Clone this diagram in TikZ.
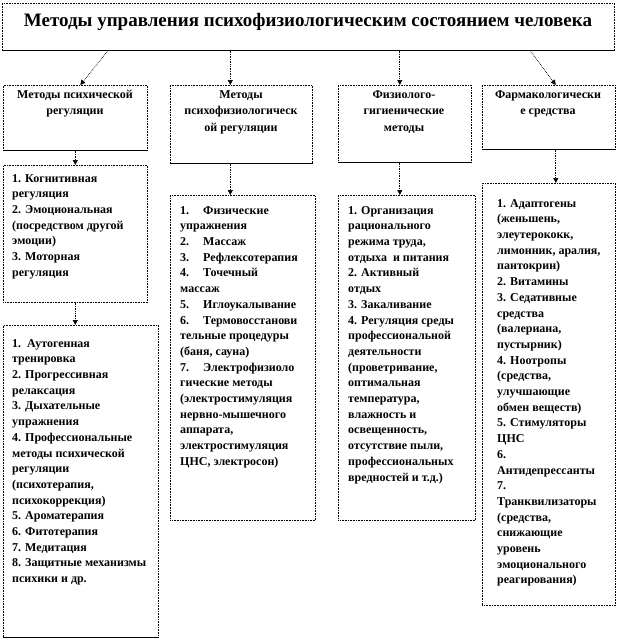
\documentclass[tikz,border=0pt]{standalone}
\usepackage{fontspec}
\setmainfont{Liberation Serif}
\usetikzlibrary{arrows.meta}
\begin{document}
\begin{tikzpicture}[x=1pt,y=-1pt,
  boxshape/.style={draw=black, densely dotted, line width=0.6pt, inner sep=0pt, anchor=north west},
  shadowedge/.style={draw=black, line width=1pt},
  arr/.style={densely dotted, line width=0.7pt, -{Triangle[length=5pt,width=5pt]}},
  ttl/.style={font=\bfseries\fontsize{19}{22}\selectfont, inner sep=0pt},
  cat/.style={font=\bfseries\fontsize{12}{16.5}\selectfont, align=center, inner sep=0pt, anchor=north},
  items/.style={font=\bfseries\fontsize{12}{15.7}\selectfont, align=left, inner sep=0pt, anchor=north west}]
\useasboundingbox[fill=white] (0,0) rectangle (618,642);
% boxes
\node[boxshape, minimum width=612pt, minimum height=47pt] (title) at (2,3) {};
\node[boxshape, minimum width=144pt, minimum height=65pt] (c1) at (3,85) {};
\node[boxshape, minimum width=142pt, minimum height=78pt] (c2) at (170,85) {};
\node[boxshape, minimum width=133pt, minimum height=77pt] (c3) at (338,85) {};
\node[boxshape, minimum width=133pt, minimum height=64pt] (c4) at (482,85) {};
\node[boxshape, minimum width=144pt, minimum height=137pt] (a) at (3,165) {};
\node[boxshape, minimum width=155pt, minimum height=312pt] (b) at (3,325) {};
\node[boxshape, minimum width=145pt, minimum height=325pt] (d2) at (170,195) {};
\node[boxshape, minimum width=137pt, minimum height=325pt] (d3) at (338,195) {};
\node[boxshape, minimum width=133pt, minimum height=422pt] (d4) at (482,183) {};
% solid lower edges
\foreach \n in {title,c1,c2,c3,c4,b}{
  \draw[shadowedge] (\n.south west) -- (\n.south east);
}
% texts
\node[ttl] (tt) at (308,22) {Методы управления психофизиологическим состоянием человека};
\node[cat] (t1) at (75,90) {Методы психической\\регуляции};
\node[cat] (t2) at (241,90) {Методы\\психофизиологическ\\ой регуляции};
\node[cat] (t3) at (404,90) {Физиолого-\\гигиенические\\методы};
\node[cat] (t4) at (548,90) {Фармакологически\\е средства};
\node[items] (ta) at (12,174) {1. Когнитивная\\регуляция\\2. Эмоциональная\\(посредством другой\\эмоции)\\3. Моторная\\регуляция};
\node[items] (tb) at (12,339) {1.\ \ Аутогенная\\тренировка\\2. Прогрессивная\\релаксация\\3. Дыхательные\\упражнения\\4. Профессиональные\\методы психической\\регуляции\\(психотерапия,\\психокоррекция)\\5. Ароматерапия\\6. Фитотерапия\\7. Медитация\\8. Защитные механизмы\\психики и др.};
\node[items] (t22) at (180,206) {1.\hspace{14pt}Физические\\упражнения\\2.\hspace{14pt}Массаж\\3.\hspace{14pt}Рефлексотерапия\\4.\hspace{14pt}Точечный\\массаж\\5.\hspace{14pt}Иглоукалывание\\6.\hspace{14pt}Термовосстанови\\тельные процедуры\\(баня, сауна)\\7.\hspace{14pt}Электрофизиоло\\гические методы\\(электростимуляция\\нервно-мышечного\\аппарата,\\электростимуляция\\ЦНС, электросон)};
\node[items] (t33) at (348,206) {1. Организация\\рационального\\режима труда,\\отдыха\ \ и питания\\2. Активный\\отдых\\3. Закаливание\\4. Регуляция среды\\профессиональной\\деятельности\\(проветривание,\\оптимальная\\температура,\\влажность и\\освещенность,\\отсутствие пыли,\\профессиональных\\вредностей и т.д.)};
\node[items] (t44) at (497,199) {1. Адаптогены\\(женьшень,\\элеутерококк,\\лимонник, аралия,\\пантокрин)\\2. Витамины\\3. Седативные\\средства\\(валериана,\\пустырник)\\4. Ноотропы\\(средства,\\улучшающие\\обмен веществ)\\5. Стимуляторы\\ЦНС\\6.\\Антидепрессанты\\7.\\Транквилизаторы\\(средства,\\снижающие\\уровень\\эмоционального\\реагирования)};
% connectors
\draw[arr] ([xshift=106pt]title.south west) -- ([xshift=5pt]c1.north);
\draw[arr] (title.south -| c2.north) ++(-11pt,0) coordinate (s2) -- (s2 |- c2.north);
\draw[arr] (title.south -| c3.north) ++(-5pt,0) coordinate (s3) -- (s3 |- c3.north);
\draw[arr] ([xshift=528pt]title.south west) -- ([xshift=7pt]c4.north);
\draw[arr] (c1.south) -- (a.north);
\draw[arr] (a.south) -- (a.south |- b.north);
\draw[arr] (c2.south) ++(-11pt,0) coordinate (u2) -- (u2 |- d2.north);
\draw[arr] (c3.south) ++(-5pt,0) coordinate (u3) -- (u3 |- d3.north);
\draw[arr] (c4.south) ++(7pt,0) coordinate (u4) -- (u4 |- d4.north);
\end{tikzpicture}
\end{document}
